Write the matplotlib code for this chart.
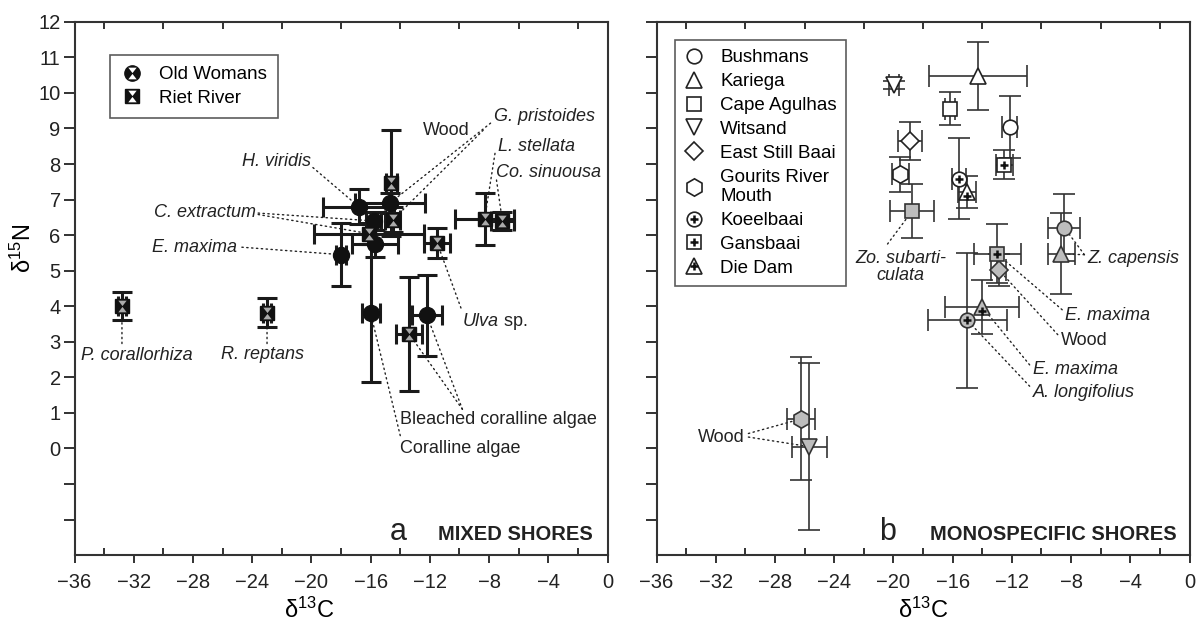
import matplotlib
matplotlib.use("Agg")
import matplotlib.pyplot as plt
from matplotlib.lines import Line2D
from matplotlib.path import Path
from matplotlib.ticker import FixedLocator, FuncFormatter

plt.rcParams['font.family'] = ['Liberation Sans', 'DejaVu Sans']
plt.rcParams['mathtext.fontset'] = 'custom'
plt.rcParams['mathtext.rm'] = 'Liberation Sans'
plt.rcParams['mathtext.it'] = 'Liberation Sans:italic'

# ---- panel a: mixed shores ----
ow_x = [-16.8, -14.7, -15.8, -15.7, -18.0, -16.0, -12.2]
ow_y = [6.8, 6.9, 6.4, 5.76, 5.45, 3.8, 3.74]
ow_xerr = [2.4, 2.35, 0.5, 1.55, 0.35, 0.6, 1.0]
ow_yerr = [0.5, 0.28, 0.25, 0.38, 0.88, 1.94, 1.15]

rr_x = [-32.8, -23.0, -14.6, -14.5, -16.1, -11.5, -13.4, -8.3, -7.1]
rr_y = [4.0, 3.82, 7.47, 6.43, 6.04, 5.77, 3.22, 6.46, 6.39]
rr_xerr = [0.3, 0.3, 0.35, 0.5, 3.7, 0.87, 0.87, 2.0, 0.8]
rr_yerr = [0.4, 0.4, 1.5, 0.35, 0.3, 0.42, 1.6, 0.73, 0.25]

# ---- panel b: monospecific shores ----
sites = ['Bushmans', 'Kariega', 'Cape Agulhas', 'Witsand', 'East Still Baai',
         'Gourits River\nMouth', 'Koeelbaai', 'Gansbaai', 'Die Dam']
site_marker = ['o', '^', 's', 'v', 'D', 'h', 'o', 's', '^']
site_plus = [False, False, False, False, False, False, True, True, True]

open_x = [-12.16, -14.28, -16.16, -19.97, -18.88, -19.53, -15.57, -12.5, -15.05]
open_y = [9.04, 10.47, 9.56, 10.22, 8.65, 7.71, 7.59, 7.98, 7.21]
open_xerr = [0.5, 3.3, 0.35, 0.35, 0.8, 0.6, 0.5, 0.6, 0.6]
open_yerr = [0.87, 0.95, 0.47, 0.12, 0.53, 0.5, 1.15, 0.41, 0.45]

grey_x = [-8.46, -8.66, -18.75, -25.68, -12.88, -26.25, -15.0, -12.99, -14.03]
grey_y = [6.21, 5.47, 6.67, 0.05, 5.02, 0.83, 3.6, 5.47, 3.99]
grey_xerr = [1.07, 0.9, 1.5, 1.2, 0.5, 0.96, 2.68, 1.6, 2.5]
grey_yerr = [0.95, 1.14, 0.76, 2.35, 0.45, 1.73, 1.9, 0.83, 0.76]

x_major = list(range(-36, 1, 4))
x_minor = list(range(-34, 0, 4))
y_ticks = list(range(-2, 13))

hourglass = Path([(-0.3, 0.42), (0.3, 0.42), (0, 0.03), (-0.3, 0.42),
                  (-0.3, -0.42), (0.3, -0.42), (0, -0.03), (-0.3, -0.42)],
                 [Path.MOVETO, Path.LINETO, Path.LINETO, Path.CLOSEPOLY,
                  Path.MOVETO, Path.LINETO, Path.LINETO, Path.CLOSEPOLY])

fig = plt.figure(figsize=(12.03, 6.23), dpi=100)
ax1 = fig.add_axes([0.062, 0.109, 0.443, 0.856])
ax2 = fig.add_axes([0.5458, 0.109, 0.443, 0.856])

xfmt = FuncFormatter(lambda v, p: '0' if v == 0 else f'\u2212{abs(int(v))}')

for ax in (ax1, ax2):
    ax.set_xlim(-36, 0)
    ax.set_ylim(-3, 12)
    ax.xaxis.set_major_locator(FixedLocator(x_major))
    ax.xaxis.set_minor_locator(FixedLocator(x_minor))
    ax.xaxis.set_major_formatter(xfmt)
    ax.yaxis.set_major_locator(FixedLocator(y_ticks))
    ax.tick_params(which='major', axis='x', direction='out', length=6, width=1.3,
                   labelsize=14.5, pad=7, colors='#222222')
    ax.tick_params(which='major', axis='y', direction='out', length=8, width=1.3,
                   labelsize=14.5, pad=2, colors='#222222')
    ax.tick_params(which='minor', axis='x', direction='in', length=5, width=1.3,
                   top=True, bottom=True, colors='#222222')
    for s in ax.spines.values():
        s.set_linewidth(1.5)
        s.set_color('#333333')
    ax.set_xlabel('\u03b4$^{13}$C', fontsize=17)
    ax.xaxis.set_label_coords(0.5, -0.08)

ax1.yaxis.set_major_formatter(FuncFormatter(lambda v, p: '' if v < 0 else str(int(v))))
ax2.yaxis.set_major_formatter(FuncFormatter(lambda v, p: ''))
ax1.set_ylabel('\u03b4$^{15}$N', fontsize=17)
ax1.yaxis.set_label_coords(-0.072, 0.576)
ax1.xaxis.set_label_coords(0.44, -0.08)

# panel a marks
ax1.errorbar(ow_x, ow_y, xerr=ow_xerr, yerr=ow_yerr, fmt='none', ecolor='#1a1a1a',
             elinewidth=2.2, capsize=7, capthick=2.2, zorder=2)
ax1.errorbar(rr_x, rr_y, xerr=rr_xerr, yerr=rr_yerr, fmt='none', ecolor='#1a1a1a',
             elinewidth=2.2, capsize=7, capthick=2.2, zorder=2)
ax1.plot(ow_x, ow_y, 'o', ms=11.5, color='#111111', zorder=3)
ax1.plot(rr_x, rr_y, 's', ms=10, color='#111111', mec='#111111', zorder=3)
ax1.plot(rr_x, rr_y, ls='none', marker=hourglass, ms=8.4, color='#aaaaaa', mew=0, zorder=4)

h_ow = (Line2D([], [], ls='none', marker='o', ms=11, color='#111111'),
        Line2D([], [], ls='none', marker=hourglass, ms=8.4, color='white', mew=0))
h_rr = (Line2D([], [], ls='none', marker='s', ms=10, color='#111111'),
        Line2D([], [], ls='none', marker=hourglass, ms=8.4, color='white', mew=0))
leg1 = ax1.legend([h_ow, h_rr], ['Old Womans', 'Riet River'], loc='upper left',
                  bbox_to_anchor=(0.066, 0.938), borderaxespad=0, fontsize=13.5,
                  fancybox=False, edgecolor='#333333', handlelength=1.2,
                  handletextpad=0.8, borderpad=0.6, labelspacing=0.35)
leg1.get_frame().set_linewidth(1.2)

lead = dict(arrowstyle='-', linestyle=(0, (1, 2.5)), lw=1, color='#222222',
            shrinkA=0, shrinkB=4)

def leader(ax, start, pt):
    ax.annotate('', xy=pt, xytext=start, arrowprops=lead, zorder=1)

itx = dict(fontsize=13, style='italic', color='#222222')
ax1.text(-10.92, 8.95, 'Wood', fontsize=13, ha='center', va='center', color='#222222')
ax1.text(-7.68, 9.33, 'G. pristoides', ha='left', va='center', **itx)
ax1.text(-7.43, 8.5, 'L. stellata', ha='left', va='center', **itx)
ax1.text(-7.55, 7.77, 'Co. sinuousa', ha='left', va='center', **itx)
ax1.text(-20.04, 8.08, 'H. viridis', ha='right', va='center', **itx)
ax1.text(-23.77, 6.64, 'C. extractum', ha='right', va='center', **itx)
ax1.text(-25.06, 5.64, 'E. maxima', ha='right', va='center', **itx)
ax1.text(-31.78, 2.61, 'P. corallorhiza', ha='center', va='center', **itx)
ax1.text(-23.28, 2.64, 'R. reptans', ha='center', va='center', **itx)
ax1.text(-9.83, 3.58, r'$\it{Ulva}$ sp.', ha='left', va='center', fontsize=13, color='#222222')
ax1.text(-14.02, 0.8, 'Bleached coralline algae', ha='left', va='center', fontsize=13,
         color='#222222', clip_on=False)
ax1.text(-14.02, 0.0, 'Coralline algae', ha='left', va='center', fontsize=13, color='#222222')

leader(ax1, (-19.9, 7.9), (ow_x[0], ow_y[0]))
leader(ax1, (-23.6, 6.62), (ow_x[2], ow_y[2]))
leader(ax1, (-23.6, 6.58), (rr_x[4], rr_y[4]))
leader(ax1, (-24.7, 5.66), (ow_x[4], ow_y[4]))
leader(ax1, (-7.9, 9.15), (ow_x[1], ow_y[1]))
leader(ax1, (-8.4, 8.95), (rr_x[3], rr_y[3]))
leader(ax1, (-7.6, 8.3), (rr_x[7], rr_y[7]))
leader(ax1, (-7.5, 7.55), (rr_x[8], rr_y[8]))
leader(ax1, (-32.8, 2.95), (rr_x[0], rr_y[0]))
leader(ax1, (-23.0, 2.95), (rr_x[1], rr_y[1]))
leader(ax1, (-9.9, 3.95), (rr_x[5], rr_y[5]))
leader(ax1, (-9.8, 1.1), (ow_x[6], ow_y[6]))
leader(ax1, (-9.8, 1.1), (rr_x[6], rr_y[6]))
leader(ax1, (-14.0, 0.36), (ow_x[5], ow_y[5]))

ax1.text(0.592, 0.028, 'a', transform=ax1.transAxes, fontsize=22, ha='left',
         va='baseline', color='#222222')
ax1.text(0.973, 0.028, 'MIXED SHORES', transform=ax1.transAxes, fontsize=14.5,
         fontweight='bold', ha='right', va='baseline', color='#222222')

# panel b marks
ebkw = dict(fmt='none', ecolor='#333333', elinewidth=1.2, capsize=8, capthick=1.2, zorder=2)
handles = []
for i, name in enumerate(sites):
    m = site_marker[i]
    ms = {'^': 11, 'v': 11, 'h': 12.5, 's': 9.5, 'D': 9.5}.get(m, 10.5)
    ax2.errorbar(open_x[i], open_y[i], xerr=open_xerr[i], yerr=open_yerr[i], **ebkw)
    ax2.errorbar(grey_x[i], grey_y[i], xerr=grey_xerr[i], yerr=grey_yerr[i], **ebkw)
    ax2.plot(open_x[i], open_y[i], m, ms=ms, mfc='white', mec='#222222', mew=1.2, zorder=3)
    ax2.plot(grey_x[i], grey_y[i], m, ms=ms, mfc='#bdbdbd', mec='#333333', mew=1.2, zorder=3)
    h = Line2D([], [], ls='none', marker=m, ms=ms, mfc='white', mec='#222222', mew=1.2)
    if site_plus[i]:
        dy = -0.12 if m == '^' else 0
        ax2.plot([open_x[i], grey_x[i]], [open_y[i] + dy, grey_y[i] + dy], '+', ms=6,
                 mew=1.8, color='#111111', zorder=4)
        h = (h, Line2D([], [], ls='none', marker='+', ms=6, mew=1.8, color='#111111'))
    handles.append(h)

leg2 = ax2.legend(handles, sites, loc='upper left', bbox_to_anchor=(0.035, 0.966),
                  borderaxespad=0, fontsize=13.5, fancybox=False, edgecolor='#333333',
                  handlelength=1.0, handletextpad=0.9, borderpad=0.5, labelspacing=0.36)
leg2.get_frame().set_linewidth(1.2)

ax2.text(-19.53, 5.1, 'Zo. subarti-\nculata', ha='center', va='center', linespacing=0.95, **itx)
ax2.text(-6.93, 5.34, 'Z. capensis', ha='left', va='center', **itx)
ax2.text(-8.4, 3.74, 'E. maxima', ha='left', va='center', **itx)
ax2.text(-8.66, 3.05, 'Wood', ha='left', va='center', fontsize=13, color='#222222')
ax2.text(-10.6, 2.22, 'E. maxima', ha='left', va='center', **itx)
ax2.text(-10.6, 1.58, 'A. longifolius', ha='left', va='center', **itx)
ax2.text(-30.05, 0.31, 'Wood', ha='right', va='center', fontsize=13, color='#222222')

leader(ax2, (-20.4, 5.75), (grey_x[2], grey_y[2]))
leader(ax2, (-7.1, 5.45), (grey_x[0], grey_y[0]))
leader(ax2, (-7.1, 5.45), (grey_x[1], grey_y[1]))
leader(ax2, (-8.6, 3.9), (grey_x[7], grey_y[7]))
leader(ax2, (-8.9, 3.2), (grey_x[4], grey_y[4]))
leader(ax2, (-10.8, 2.35), (grey_x[8], grey_y[8]))
leader(ax2, (-10.8, 1.75), (grey_x[6], grey_y[6]))
leader(ax2, (-29.8, 0.42), (grey_x[5], grey_y[5]))
leader(ax2, (-29.8, 0.32), (grey_x[3], grey_y[3]))

ax2.text(0.418, 0.028, 'b', transform=ax2.transAxes, fontsize=22, ha='left',
         va='baseline', color='#222222')
ax2.text(0.976, 0.028, 'MONOSPECIFIC SHORES', transform=ax2.transAxes, fontsize=14.5,
         fontweight='bold', ha='right', va='baseline', color='#222222')

fig.savefig('out.png', dpi=100)
